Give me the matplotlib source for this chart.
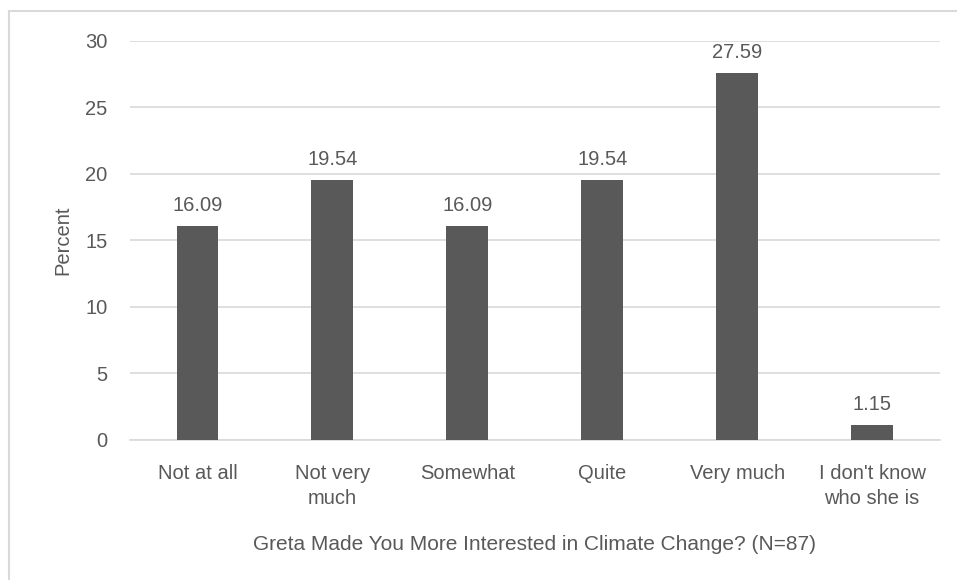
import numpy as np
import matplotlib.pyplot as plt
from matplotlib.patches import Rectangle

categories = ['Not at all', 'Not very\nmuch', 'Somewhat', 'Quite', 'Very much', "I don't know\nwho she is"]
percents = [16.09, 19.54, 16.09, 19.54, 27.59, 1.15]
yticks = [0, 5, 10, 15, 20, 25, 30]

text_color = '#595959'
bar_color = '#595959'
grid_color = '#d9d9d9'

plt.rcParams['font.family'] = ['Liberation Sans', 'DejaVu Sans']
fs = 14.5

fig = plt.figure(figsize=(9.57, 5.80), dpi=100)
ax = fig.add_axes([0.1358, 0.2414, 0.846, 0.688])

# chart area border (right and bottom edges run off the image)
fig.patches.append(Rectangle((9 / 957, -0.1), 1.2, 1.1 - 11 / 580, transform=fig.transFigure,
                             fill=False, edgecolor='#d9d9d9', linewidth=1.5))

x = np.arange(len(categories))
ax.bar(x, percents, width=0.31, color=bar_color, zorder=3)

for xi, v in zip(x, percents):
    ax.text(xi, v + 0.8, f'{v:.2f}', ha='center', va='bottom', fontsize=fs, color=text_color)

ax.set_xlim(-0.5, len(categories) - 0.5)
ax.set_ylim(0, 30)
ax.set_yticks(yticks)
ax.set_xticks(x)
ax.set_xticklabels(categories, fontsize=fs, color=text_color, linespacing=1.4)
ax.tick_params(axis='y', labelsize=fs, labelcolor=text_color, length=0, pad=16)
ax.tick_params(axis='x', length=0, pad=17)
ax.grid(axis='y', color=grid_color, linewidth=1.2, zorder=0)

for s in ['top', 'right', 'left']:
    ax.spines[s].set_visible(False)
ax.spines['bottom'].set_color(grid_color)
ax.spines['bottom'].set_linewidth(1.2)

ax.set_ylabel('Percent', fontsize=fs, color=text_color, labelpad=9)
ax.set_xlabel('Greta Made You More Interested in Climate Change? (N=87)', fontsize=fs + 0.5,
              color=text_color, labelpad=20)

plt.savefig('out.png', dpi=100)
